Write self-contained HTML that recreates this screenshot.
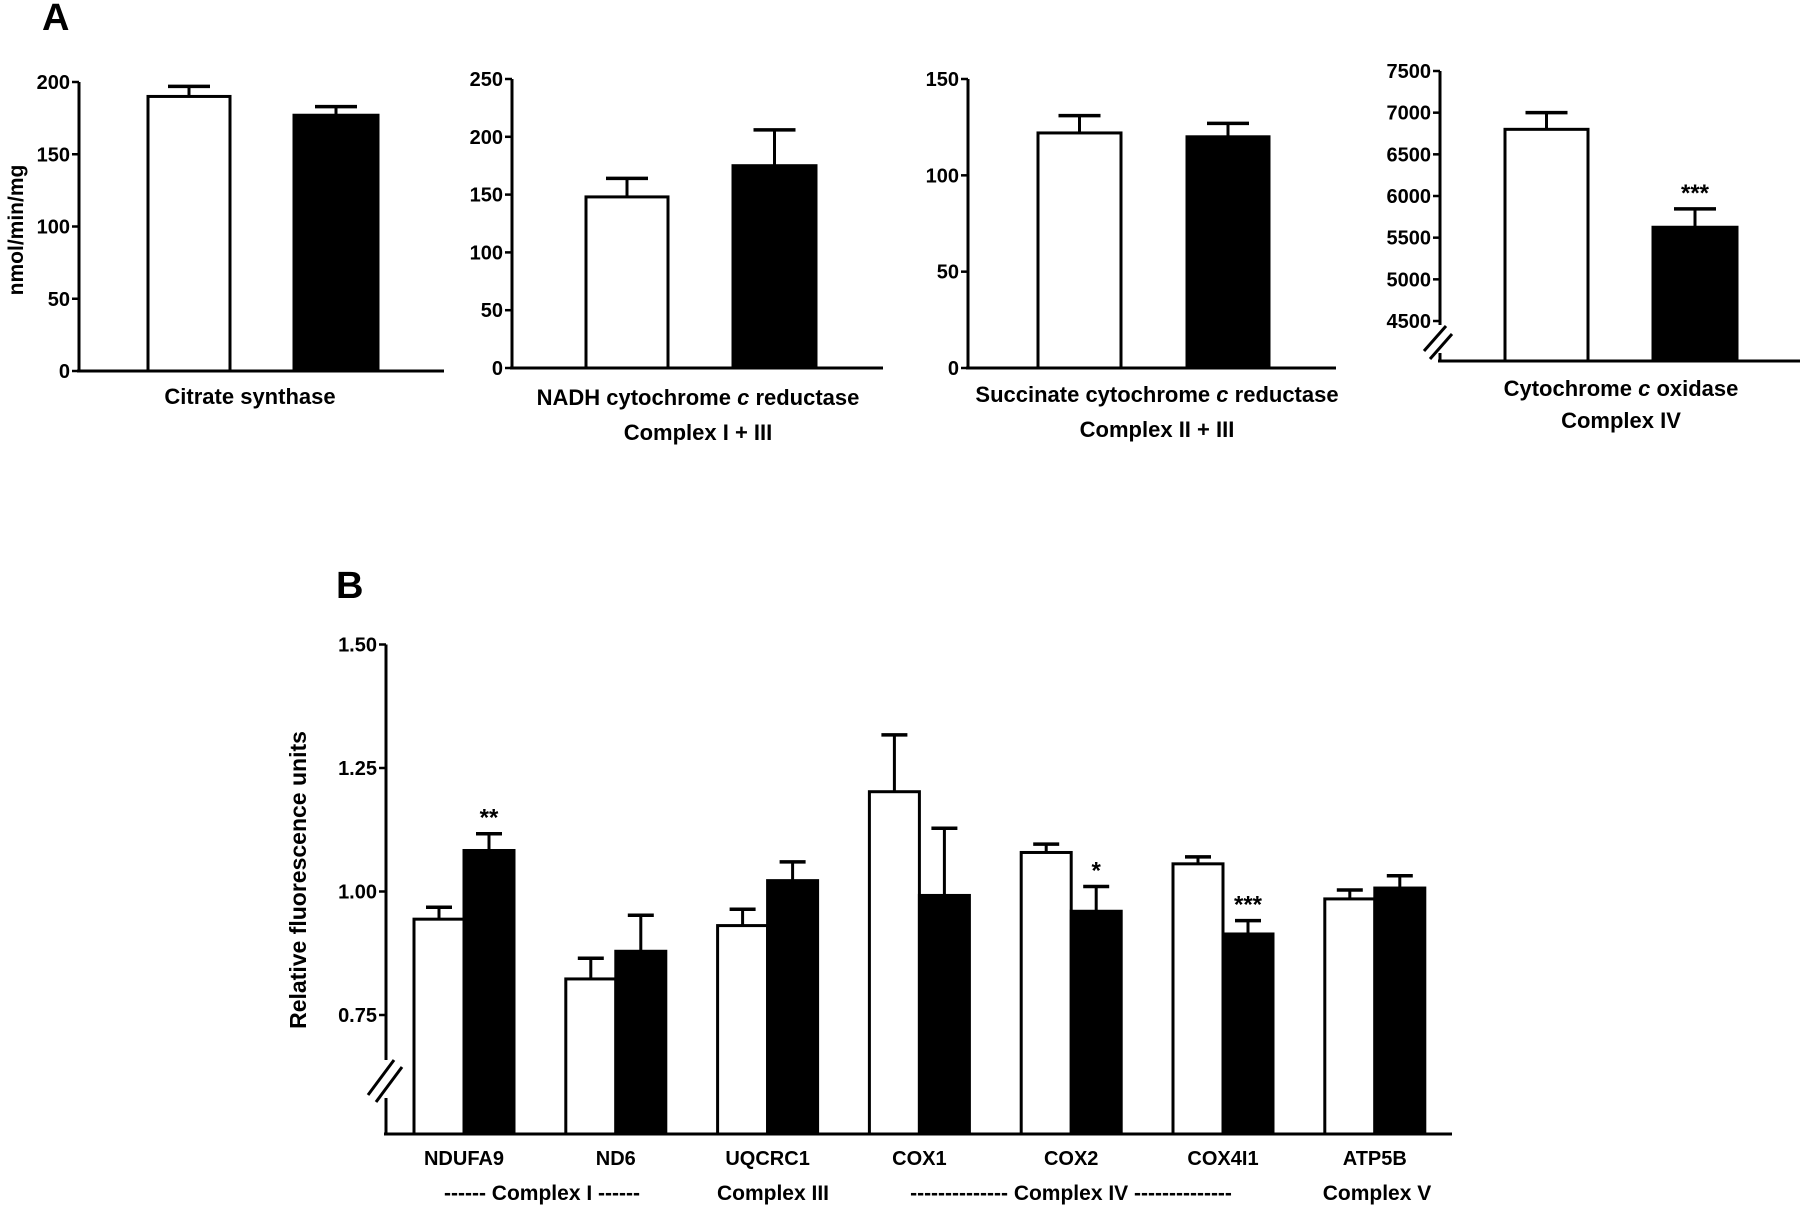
<!DOCTYPE html>
<html><head><meta charset="utf-8"><style>
html,body{margin:0;padding:0;background:#fff;}
svg{display:block;font-family:"Liberation Sans",Arial,sans-serif;font-weight:bold;}
</style></head><body>
<svg id="fig" width="1800" height="1209" viewBox="0 0 1800 1209" xmlns="http://www.w3.org/2000/svg">
<text x="42" y="30" font-size="38">A</text>
<text x="336" y="598" font-size="38">B</text>
</svg>
<script>
// Panel A data
const aTitles = [["Citrate synthase"],["NADH cytochrome |c| reductase","Complex I + III"],["Succinate cytochrome |c| reductase","Complex II + III"],["Cytochrome |c| oxidase","Complex IV"]];
const aControl = [190, 148, 122, 6800];
const aControlErr = [197, 164, 131, 7000];
const aTreated = [177, 175, 120, 5625];
const aTreatedErr = [183, 206, 127, 5845];
const aTicks = [[0,50,100,150,200],[0,50,100,150,200,250],[0,50,100,150],[4500,5000,5500,6000,6500,7000,7500]];
const aStars = ["", "", "", "***"];
// Panel B data
const bCategories = ["NDUFA9","ND6","UQCRC1","COX1","COX2","COX4I1","ATP5B"];
const bControl = [0.944, 0.823, 0.931, 1.202, 1.079, 1.056, 0.985];
const bControlErr = [0.968, 0.865, 0.964, 1.317, 1.096, 1.070, 1.003];
const bTreated = [1.083, 0.879, 1.022, 0.992, 0.960, 0.914, 1.007];
const bTreatedErr = [1.117, 0.952, 1.060, 1.128, 1.010, 0.941, 1.032];
const bStars = ["**", "", "", "", "*", "***", ""];
const bTicks = [0.75, 1.00, 1.25, 1.50];
const bTickLabels = ["0.75","1.00","1.25","1.50"];

const svg = document.getElementById('fig');
const NS = "http://www.w3.org/2000/svg";
function mk(tag, attrs, parent){
  const e = document.createElementNS(NS, tag);
  for (const k in attrs) e.setAttribute(k, attrs[k]);
  (parent||svg).appendChild(e);
  return e;
}
function line(x1,y1,x2,y2,w,name){
  const l = mk('line',{x1:x1,y1:y1,x2:x2,y2:y2,stroke:'#000','stroke-width':w||3});
  
  
  return l;
}
function text(x,y,s,size,anchor,name){
  const t = mk('text',{x:x,y:y,'font-size':size,'text-anchor':anchor||'middle'});
  const parts = s.split('|');
  parts.forEach((p,i)=>{
    const ts = mk('tspan',{},t);
    if (i%2===1) ts.setAttribute('font-style','italic');
    ts.textContent = (i>0 && i%2===1 ? ' ' : '') + p + (i%2===1 ? ' ' : '');
  });
  
  
  return t;
}

// Panel A layout
const aPanels = [
  {ax:79, top:82, zero:371, max:200, min:0, end:444, w:[148,230],b:[294,378], tx:250, ty:[404], brk:false},
  {ax:512, top:79, zero:368, max:250, min:0, end:883, w:[586,668],b:[733,816], tx:698, ty:[405,440], brk:false},
  {ax:968, top:79, zero:368, max:150, min:0, end:1336, w:[1038,1121],b:[1187,1269], tx:1157, ty:[402,437], brk:false},
  {ax:1440, top:71, zero:321, max:7500, min:4500, end:1800, w:[1505,1588],b:[1653,1737], tx:1621, ty:[396,428], brk:true, base:361}
];
aPanels.forEach((p,i)=>{
  const y = v => p.zero - (v - p.min)/(p.max - p.min)*(p.zero - p.top);
  const base = p.brk ? p.base : p.zero;
  if (p.brk){
    line(p.ax, p.top, p.ax, y(4500)+4, 3, 'y-axis');
    line(p.ax, y(4500)+32, p.ax, base, 3, 'y-axis');
    line(p.ax-16, y(4500)+30, p.ax+6, y(4500)+5, 3, 'axis-break');
    line(p.ax-10, y(4500)+38, p.ax+12, y(4500)+13, 3, 'axis-break');
  } else {
    line(p.ax, p.top, p.ax, base, 3, 'y-axis');
  }
  line(p.ax-2, base, p.end, base, 3, 'x-axis');
  aTicks[i].forEach(t=>{
    line(p.ax-7, y(t), p.ax, y(t), 2.5, 'y-tick');
    text(p.ax-9, y(t)+7, String(t), 20, 'end', 'y-tick-label');
  });
  const cw = 42;
  const wc = (p.w[0]+p.w[1])/2;
  line(wc, y(aControl[i]), wc, y(aControlErr[i]), 3, 'error-bar');
  line(wc-cw/2, y(aControlErr[i]), wc+cw/2, y(aControlErr[i]), 3.5, 'error-cap');
  const r1 = mk('rect',{x:p.w[0],y:y(aControl[i]),width:p.w[1]-p.w[0],height:base-y(aControl[i]),fill:'#fff',stroke:'#000','stroke-width':3});
  
  
  const bc = (p.b[0]+p.b[1])/2;
  line(bc, y(aTreated[i]), bc, y(aTreatedErr[i]), 3, 'error-bar');
  line(bc-cw/2, y(aTreatedErr[i]), bc+cw/2, y(aTreatedErr[i]), 3.5, 'error-cap');
  const r2 = mk('rect',{x:p.b[0],y:y(aTreated[i]),width:p.b[1]-p.b[0],height:base-y(aTreated[i]),fill:'#000',stroke:'#000','stroke-width':3});
  
  
  if (aStars[i]) text(bc, y(aTreatedErr[i])-8, aStars[i], 24, 'middle', 'significance-stars');
  aTitles[i].forEach((s,j)=> text(p.tx, p.ty[j], s, 22, 'middle', 'chart-title'));
});
const yl = text(0,0,'nmol/min/mg',21,'middle','y-axis-title');
yl.setAttribute('transform','translate(23,230) rotate(-90)');

// Panel B
const B = {ax:386, zero:1015, min:0.75, pxPer:123.5/0.25, base:1134, end:1452, x0:414, step:151.8, bw:50};
const by = v => B.zero - (v - B.min)*B.pxPer;
line(B.ax, by(1.5), B.ax, 1060, 3, 'y-axis');
line(B.ax, 1098, B.ax, B.base, 3, 'y-axis');
line(368, 1095, 394, 1060, 3, 'axis-break');
line(376, 1102, 402, 1067, 3, 'axis-break');
line(B.ax-2, B.base, B.end, B.base, 3, 'x-axis');
bTicks.forEach((t,i)=>{
  line(B.ax-7, by(t), B.ax, by(t), 2.5, 'y-tick');
  text(B.ax-9, by(t)+7, bTickLabels[i], 20, 'end', 'y-tick-label');
});
bCategories.forEach((c,i)=>{
  const xl = B.x0 + i*B.step;
  const cc = xl + B.bw/2, tc = xl + B.bw*1.5;
  line(cc, by(bControl[i]), cc, by(bControlErr[i]), 3, 'error-bar');
  line(cc-13, by(bControlErr[i]), cc+13, by(bControlErr[i]), 3.5, 'error-cap');
  const r1 = mk('rect',{x:xl,y:by(bControl[i]),width:B.bw,height:B.base-by(bControl[i]),fill:'#fff',stroke:'#000','stroke-width':3});
  
  
  line(tc, by(bTreated[i]), tc, by(bTreatedErr[i]), 3, 'error-bar');
  line(tc-13, by(bTreatedErr[i]), tc+13, by(bTreatedErr[i]), 3.5, 'error-cap');
  const r2 = mk('rect',{x:xl+B.bw,y:by(bTreated[i]),width:B.bw,height:B.base-by(bTreated[i]),fill:'#000',stroke:'#000','stroke-width':3});
  
  
  if (bStars[i]) text(tc, by(bTreatedErr[i])-8, bStars[i], 24, 'middle', 'significance-stars');
  text(xl+B.bw, 1165, c, 20, 'middle', 'x-tick-label');
});
text(542, 1200, '------ Complex I ------', 21, 'middle', 'group-label');
text(773, 1200, 'Complex III', 21, 'middle', 'group-label');
text(1071, 1200, '-------------- Complex IV --------------', 21, 'middle', 'group-label');
text(1377, 1200, 'Complex V', 21, 'middle', 'group-label');
const yl2 = text(0,0,'Relative fluorescence units',23,'middle','y-axis-title');
yl2.setAttribute('transform','translate(306,880) rotate(-90)');
</script>
</body></html>
